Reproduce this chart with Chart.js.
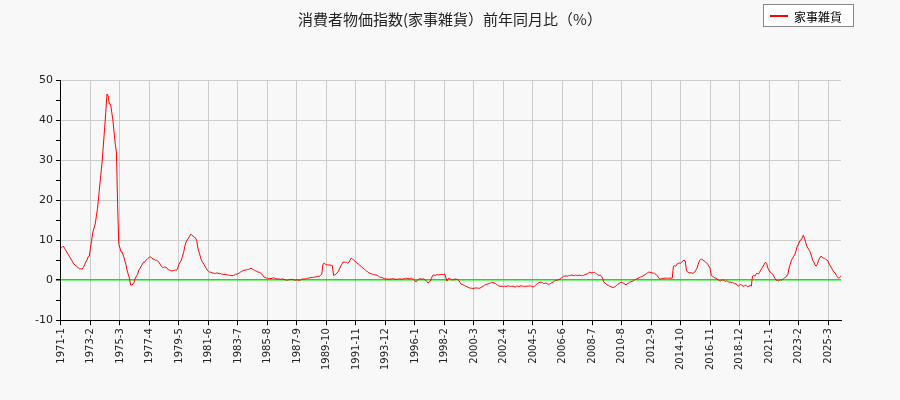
<!DOCTYPE html>
<html><head><meta charset="utf-8">
<script src="https://cdn.jsdelivr.net/npm/chart.js@4"></script>
<style>
body{margin:0;background:#f8f8f8;}
#wrap{position:relative;width:900px;height:400px;}
#title{position:absolute;top:8px;left:0;width:900px;text-align:center;font:15px "Noto Sans CJK JP";color:#222;}
#leg{position:absolute;left:763px;top:4px;width:91px;height:23px;border:1px solid #888;background:#fff;font:12px "Noto Sans CJK JP";box-sizing:border-box;}
#leg span.l{position:absolute;left:6px;top:10px;width:18px;height:2px;background:red;}
#leg span.t{position:absolute;left:30px;top:3px;}
</style></head><body>
<div id="wrap"><canvas id="c" width="900" height="400"></canvas>
<div id="title">消費者物価指数(家事雑貨）前年同月比（%）</div>
<div id="leg"><span class="l"></span><span class="t">家事雑貨</span></div></div>
<script>
const seriesName = '家事雑貨';
const startYear = 1971;
const v1971_1980 = [
8,8.2,8.5,8,7.5,7,6.5,6,5.5,5,4.5,4,
3.8,3.5,3.3,3,2.8,2.8,2.8,3.2,3.8,4.5,5,5.8,
6,8,10,12,13,14,16,18,21,24,27,30,
34,38,42,46.5,46,44,44,42,40,37,34,32,
19,9,8,7,7,6,5,4,2.5,1.5,0.5,-1.2,
-1.2,-1,-0.5,0.5,1,1.5,2.5,3,3.5,4,4.5,4.5,
5,5.2,5.5,5.8,5.8,5.5,5.3,5.2,5,5,4.8,4.5,
4,3.5,3.2,3.2,3.3,3.2,3,2.6,2.5,2.4,2.3,2.4,
2.5,2.5,2.5,3,4,4.5,5,6,7,8.5,9.5,10,
10.5,11,11.5,11.2,11,10.8,10.5,10,8,7,6,5];
const v1981_1990 = [
4.5,4,3.5,3,2.5,2.2,2,2,1.8,1.8,1.7,1.7,
1.8,1.8,1.6,1.7,1.5,1.5,1.4,1.5,1.4,1.3,1.3,1.2,
1.2,1.1,1.2,1.3,1.5,1.5,1.6,1.8,2,2.2,2.3,2.5,
2.5,2.6,2.6,2.7,2.8,3,2.8,2.6,2.5,2.3,2.2,2,
2,1.8,1.6,1.2,0.8,0.7,0.5,0.5,0.4,0.4,0.4,0.5,
0.6,0.5,0.4,0.3,0.3,0.3,0.2,0.3,0.3,0.2,0.1,0,
0,0.1,0.1,0.2,0.2,0.1,0,0,0.1,0,0,0,
0.2,0.3,0.3,0.3,0.4,0.5,0.5,0.6,0.7,0.7,0.7,0.8,
0.8,0.9,1,1,1.2,1.5,4,4.2,4,3.9,3.8,3.8,
3.8,3.7,3.6,1.2,1.3,1.5,1.8,2.2,2.8,3.5,4,4.5];
const v1991_2000 = [
4.5,4.5,4.5,4.2,4.5,5,5.5,5.3,5,4.8,4.5,4.2,
4,3.8,3.5,3.2,3,2.8,2.5,2.3,2,1.8,1.7,1.6,
1.5,1.4,1.3,1.3,1.2,1,0.8,0.7,0.7,0.5,0.4,0.3,
0.3,0.3,0.2,0.3,0.3,0.4,0.3,0.3,0.2,0.2,0.3,0.3,
0.3,0.2,0.3,0.4,0.4,0.5,0.4,0.3,0.4,0.5,0.3,0.2,
-0.2,-0.4,0,0.2,0.4,0.3,0.2,0.4,0.2,0,-0.3,-0.7,
-0.5,-0.2,0.5,1.2,1.3,1.2,1.3,1.4,1.3,1.4,1.4,1.5,
1.3,1.6,0.8,-0.2,0.3,0.5,0.3,0.2,0,0.2,0.3,0.2,
0.2,0,-0.5,-1,-1,-1.2,-1.3,-1.5,-1.6,-1.8,-1.9,-2,
-2,-2.1,-2,-2,-1.9,-2,-2,-2,-1.8,-1.6,-1.5,-1.2];
const v2001_2010 = [
-1.1,-1,-0.9,-0.8,-0.7,-0.5,-0.6,-0.7,-0.8,-1,-1.2,-1.5,
-1.5,-1.5,-1.5,-1.6,-1.5,-1.6,-1.5,-1.4,-1.5,-1.6,-1.5,-1.5,
-1.6,-1.7,-1.5,-1.5,-1.6,-1.5,-1.4,-1.5,-1.5,-1.6,-1.5,-1.5,
-1.5,-1.4,-1.5,-1.5,-1.7,-1.6,-1.3,-1,-0.8,-0.6,-0.5,-0.5,
-0.6,-0.8,-0.8,-0.7,-0.9,-1,-1,-0.8,-0.6,-0.5,-0.3,-0.1,
0,0,0.2,0.3,0.5,0.8,1,1,1.1,1,1.1,1.2,
1.2,1.3,1.2,1.1,1.3,1.2,1.1,1.3,1.2,1.1,1.2,1.2,
1.4,1.5,1.6,1.8,2,1.9,1.8,1.9,2,1.8,1.5,1.3,
1.2,1.3,1,0.5,-0.5,-0.7,-1,-1.2,-1.3,-1.5,-1.6,-1.8,
-1.8,-1.7,-1.5,-1.3,-1,-0.8,-0.6,-0.5,-0.6,-0.8,-1,-1.2];
const v2011_2020 = [
-0.8,-0.7,-0.5,-0.4,-0.3,-0.2,0,0.2,0.3,0.5,0.6,0.8,
0.9,1,1.2,1.4,1.6,1.8,2,2,1.9,1.8,1.8,1.7,
1.5,1.2,0.8,0.4,0.3,0.4,0.4,0.5,0.5,0.5,0.5,0.5,
0.5,0.5,0.5,3.5,3.6,3.5,4,4.2,4.3,4.2,4.5,4.8,
5,4.8,2.5,2,1.9,1.8,1.9,1.7,1.8,2,2.5,3,
4,4.8,5.2,5.3,5,4.8,4.6,4.3,4,3.5,3,1.2,
1,0.8,0.6,0.5,0.3,0,-0.1,-0.2,0,0.1,-0.1,-0.3,
-0.2,-0.3,-0.5,-0.4,-0.6,-0.5,-0.7,-1,-0.8,-1.2,-1.5,-1.3,
-1,-1.3,-1.5,-1.5,-1.2,-1.4,-1.6,-1.5,-1.3,-1.5,1,1.2,
1,1.5,1.8,1.5,2,2.5,3,3.5,4,4.5,4.2,3];
const v2021_2026 = [
2.5,2,1.8,1.5,1,0.5,0,0,-0.2,0,0.1,0,
0.3,0.5,0.8,1,1.5,3,4,5,5.5,6,6.5,7.5,
8.5,9,9.8,10,10.5,11.2,10.5,9.5,8.5,8,7.5,7,
6,5,4.5,3.8,3.5,4,5,5.5,6,5.8,5.5,5.5,
5.2,5,4.8,4,3.5,3,2.5,2,1.8,1.2,0.8,0.5,
0.7,1];
const values = [].concat(v1971_1980,v1981_1990,v1991_2000,v2001_2010,v2011_2020,v2021_2026);
const labels = values.map((_,i)=>(startYear+Math.floor(i/12))+'-'+(i%12+1));
const labelEvery = 25;
const yMin=-10, yMax=50;

new Chart(document.getElementById('c'),{
  type:'line',
  data:{labels:labels,datasets:[{label:seriesName,data:values,borderColor:'#ff0000',borderWidth:1,pointRadius:0,tension:0,fill:false}]},
  options:{
    responsive:false,animation:false,
    layout:{padding:{top:80,left:32,right:59,bottom:27}},
    plugins:{legend:{display:false},title:{display:false},tooltip:{enabled:false}},
    scales:{
      x:{offset:false,
        grid:{color:'#cccccc',tickColor:'#000',tickLength:5,drawOnChartArea:true},
        border:{color:'#000'},
        ticks:{autoSkip:false,maxRotation:90,minRotation:90,color:'#222',font:{family:'DejaVu Sans',size:10},
          callback:function(v,i){return i%labelEvery===0?labels[i]:null;}}},
      y:{min:yMin,max:yMax,
        grid:{color:c=>c.tick.value===0?'#00ee00':(c.tick.value%10===0?'#cccccc':'rgba(0,0,0,0)'),lineWidth:c=>c.tick.value===0?1.5:1,tickColor:'#000',tickLength:5},
        border:{color:'#000'},
        ticks:{stepSize:5,color:'#222',font:{family:'DejaVu Sans',size:11},callback:v=>v%10===0?v:''}}
    }
  }
});
</script></body></html>
